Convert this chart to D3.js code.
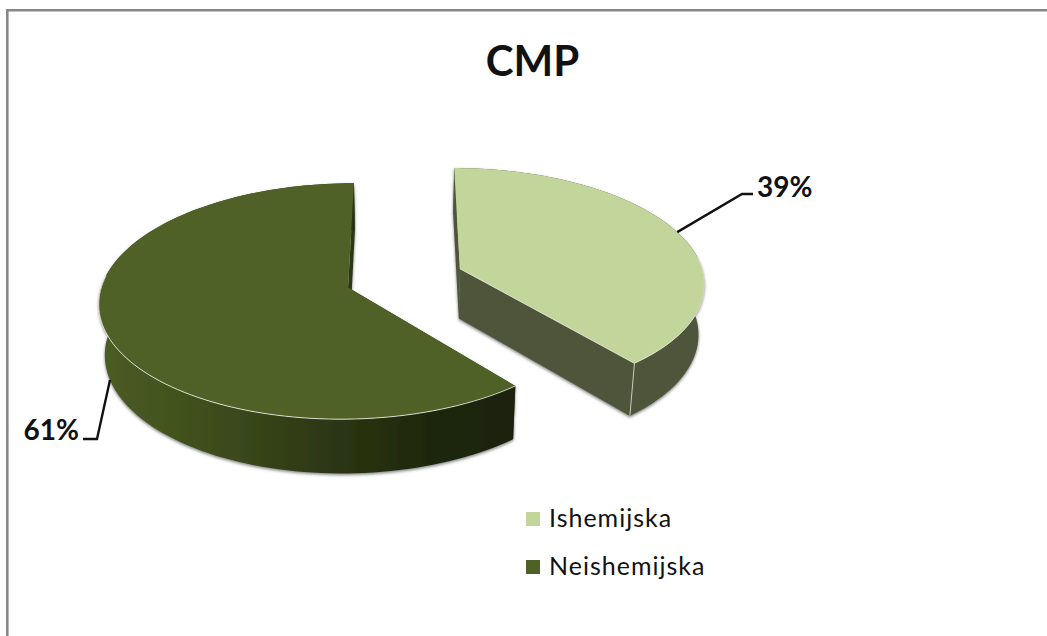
<!DOCTYPE html>
<html lang="en">
<head>
<meta charset="utf-8">
<title>CMP</title>
<script src="https://d3js.org/d3.v7.min.js"></script>
<style>
    html, body { margin: 0; padding: 0; background: #fff; }
    svg { display: block; }
    text { font-family: Lato, "Open Sans", sans-serif; fill: #111; }
</style>
</head>
<body>
<div id="chart"></div>
<script>
// chart data
var title = "CMP";
var categories = ["Ishemijska", "Neishemijska"];
var values = [39, 61];
var topColors = ["#c2d59b", "#4f6127"];

var width = 1047, height = 636;

// camera settings for the fake 3D look
var tilt = 0.115;     // perspective strength
var explode = 0.243;  // how far the slices are pulled apart
var depth = 50;       // wall height in px
var shrink = 0.02;    // bottom rim is a bit further away

var x = d3.scaleLinear().domain([-1, 1]).range([404.5 - 244.5, 404.5 + 244.5]);
var y = d3.scaleLinear().domain([-1, 1]).range([278 - 114.2, 278 + 114.2]);

var svg = d3.select("#chart").append("svg")
    .attr("width", width)
    .attr("height", height);

var defs = svg.append("defs");

// soft shadow under the walls
var shadow = defs.append("filter").attr("id", "shadow")
    .attr("x", "-10%").attr("y", "-10%").attr("width", "120%").attr("height", "120%");
shadow.append("feDropShadow")
    .attr("dx", 0).attr("dy", 1.5).attr("stdDeviation", 1.6)
    .attr("flood-color", "#555").attr("flood-opacity", 0.75);

// dark slice wall gets darker to the right
var wallGrad = defs.append("linearGradient").attr("id", "wallDark")
    .attr("gradientUnits", "userSpaceOnUse")
    .attr("x1", x(-1.23)).attr("x2", x(0.42)).attr("y1", 0).attr("y2", 0);
[[0, "#4a5c22"], [0.25, "#3f4e1d"], [0.5, "#303b15"], [0.8, "#1f280c"], [1, "#1c230a"]].forEach(function (s) {
    wallGrad.append("stop").attr("offset", s[0]).attr("stop-color", s[1]);
});
var wallFills = ["#50553a", "url(#wallDark)"];

// frame, only top and left show in the picture
svg.append("path")
    .attr("d", "M7.3,636V10.3H1047")
    .attr("fill", "none")
    .attr("stroke", "#878787")
    .attr("stroke-width", 2.6);

svg.append("text")
    .attr("x", 532.5).attr("y", 76)
    .attr("text-anchor", "middle")
    .attr("font-size", 42)
    .attr("font-weight", 700)
    .text(title);

var pie = d3.pie().sort(null)(values);
var line = d3.line();

// angle is clockwise from 12 o'clock, r 0..1 on the disc, z 0 top / 1 bottom
function project(d, angle, r, z) {
    var mid = (d.startAngle + d.endAngle) / 2;
    var X = Math.sin(angle) * r + Math.sin(mid) * explode;
    var Y = -Math.cos(angle) * r - Math.cos(mid) * explode;
    var w = 1 - tilt * Y;
    var f = 1 - shrink * z;
    return [x(X / w * f), y(Y / w * f) + depth * z / w];
}

function arcPoints(d, z) {
    return d3.range(0, 121).map(function (i) {
        var a = d.startAngle + (d.endAngle - d.startAngle) * i / 120;
        return project(d, a, 1, z);
    });
}

// dark slice first, the light one sits on top of it
var order = [1, 0];
order.forEach(function (i) {
    var d = pie[i];
    var g = svg.append("g").attr("class", "slice");
    var walls = g.append("g").attr("filter", "url(#shadow)");

    // cut faces
    [d.startAngle, d.endAngle].forEach(function (a) {
        walls.append("path")
            .attr("d", line([
                project(d, a, 0, 0), project(d, a, 1, 0),
                project(d, a, 1, 1), project(d, a, 0, 1)
            ]) + "Z")
            .attr("fill", i === 0 ? "#50553a" : "#2c3812");
    });

    // outer wall
    walls.append("path")
        .attr("d", line(arcPoints(d, 0).concat(arcPoints(d, 1).reverse())) + "Z")
        .attr("fill", wallFills[i]);

    // top surface
    g.append("path")
        .attr("d", line([project(d, 0, 0, 0)].concat(arcPoints(d, 0))) + "Z")
        .attr("fill", topColors[i]);

    // light bevel on the near edges
    var near = arcPoints(d, 0).filter(function (p, k) {
        var a = d.startAngle + (d.endAngle - d.startAngle) * k / 120;
        return Math.cos(a) < 0.12;
    });
    g.append("path")
        .attr("d", line(near))
        .attr("fill", "none")
        .attr("stroke", "#fff")
        .attr("stroke-opacity", i === 0 ? 0.5 : 0.75)
        .attr("stroke-width", 1);
    if (i === 0) {
        g.append("path")
            .attr("d", line([project(d, d.endAngle, 0, 0), project(d, d.endAngle, 1, 0), project(d, d.endAngle, 1, 1)]))
            .attr("fill", "none")
            .attr("stroke", "#e4e6dc")
            .attr("stroke-opacity", 0.8)
            .attr("stroke-width", 1);
    }
});

// percent labels with leader lines
var labelLayout = [
    { z: 0, elbow: [742, 194], end: [753, 194], tx: 757, ty: 197, anchor: "start" },
    { z: 1, elbow: [97, 439], end: [83, 439], tx: 79, ty: 440, anchor: "end" }
];
pie.forEach(function (d, i) {
    var l = labelLayout[i];
    var mid = (d.startAngle + d.endAngle) / 2;
    svg.append("path")
        .attr("d", line([project(d, mid, 1, l.z), l.elbow, l.end]))
        .attr("fill", "none")
        .attr("stroke", "#111")
        .attr("stroke-width", 2.4);
    svg.append("text")
        .attr("x", l.tx).attr("y", l.ty)
        .attr("text-anchor", l.anchor)
        .attr("font-size", 28)
        .attr("font-weight", 700)
        .text(values[i] + "%");
});

// legend
var legendY = d3.scalePoint().domain(categories).range([519, 567]);
var legend = svg.selectAll(".legend").data(categories).enter().append("g")
    .attr("class", "legend")
    .attr("transform", function (c) { return "translate(526," + legendY(c) + ")"; });
legend.append("rect")
    .attr("y", -7).attr("width", 14).attr("height", 14)
    .attr("fill", function (c, i) { return topColors[i]; });
legend.append("text")
    .attr("x", 23).attr("y", 8)
    .attr("font-size", 25)
    .attr("letter-spacing", 1)
    .text(function (c) { return c; });
</script>
</body>
</html>
